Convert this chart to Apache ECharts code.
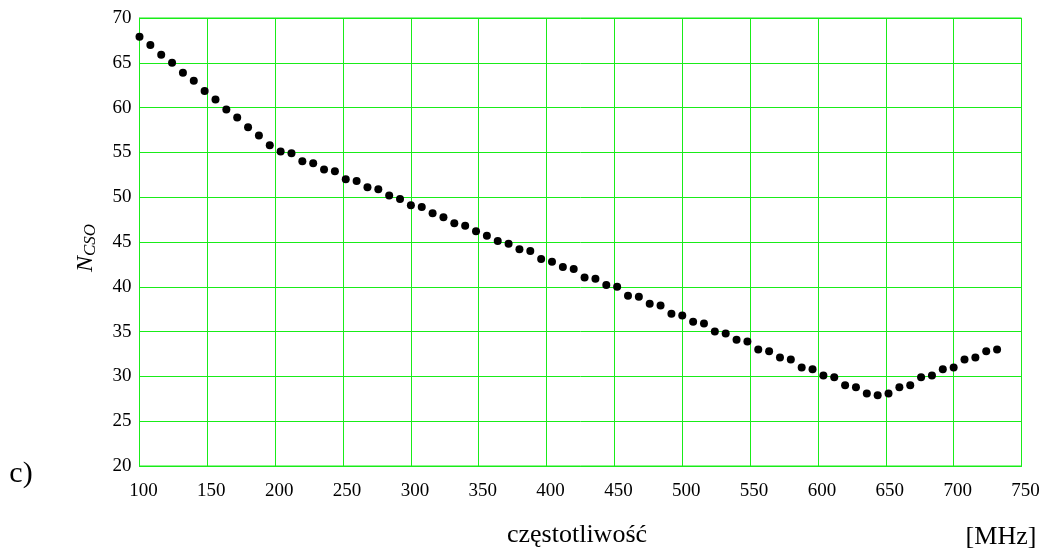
<!DOCTYPE html>
<html>
<head>
<meta charset="utf-8">
<script src="https://cdn.jsdelivr.net/npm/echarts@6/dist/echarts.min.js"></script>
<style>
html,body{margin:0;padding:0;background:#fff;}
#chart{width:1047px;height:553px;}
</style>
</head>
<body>
<div id="chart"></div>
<script>
// frequency [MHz]
var freqStart = 100;
var freqStep = 8;
// N_CSO values
var ncso = [
  67.9, 67.0, 65.9, 65.0, 63.9, 63.0, 61.85, 60.9, 59.8, 58.9,
  57.8, 56.9, 55.8, 55.1, 54.9, 54.0, 53.8, 53.1, 52.9, 52.0,
  51.8, 51.1, 50.9, 50.2, 49.8, 49.1, 48.9, 48.2, 47.75, 47.1,
  46.8, 46.2, 45.7, 45.1, 44.8, 44.2, 44.0, 43.1, 42.8, 42.2,
  42.0, 41.05, 40.9, 40.2, 40.0, 39.0, 38.9, 38.1, 37.9, 37.0,
  36.8, 36.1, 35.9, 35.0, 34.8, 34.1, 33.9, 33.0, 32.8, 32.1,
  31.9, 31.0, 30.8, 30.1, 29.9, 29.0, 28.8, 28.1, 27.9, 28.1,
  28.8, 29.0, 29.9, 30.1, 30.8, 31.0, 31.9, 32.1, 32.8, 33.0
];
var freqs = ncso.map(function(v, i){ return freqStart + freqStep * i; });
var xTicks = [100,150,200,250,300,350,400,450,500,550,600,650,700,750];
var yTicks = [20,25,30,35,40,45,50,55,60,65,70];
var texts = { yName: 'N', ySub: 'CSO', xName: 'częstotliwość', unit: '[MHz]', panel: 'c)' };

var green = '#19ec19';
var font = '"Liberation Serif", "Times New Roman", serif';
var chart = echarts.init(document.getElementById('chart'), null, {renderer: 'canvas'});
var gridL = 139.5, gridT = 18, gridR = 25.5, gridB = 87;
chart.setOption({
  animation: false,
  backgroundColor: '#fff',
  grid: {left: gridL, top: gridT, right: gridR, bottom: gridB, show: true, borderColor: green, borderWidth: 1},
  xAxis: {
    type: 'value', min: xTicks[0], max: xTicks[xTicks.length-1], interval: 50,
    axisLine: {lineStyle: {color: green, width: 1}},
    axisTick: {show: false},
    splitLine: {show: true, lineStyle: {color: green, width: 1}},
    axisLabel: {color: '#000', fontFamily: font, fontSize: 19, margin: 16, padding: [0,0,0,8]}
  },
  yAxis: {
    type: 'value', min: yTicks[0], max: yTicks[yTicks.length-1], interval: 5,
    axisLine: {show: true, lineStyle: {color: green, width: 1}},
    axisTick: {show: false},
    splitLine: {show: true, lineStyle: {color: green, width: 1}},
    axisLabel: {color: '#000', fontFamily: font, fontSize: 19, margin: 8}
  },
  series: [{
    type: 'scatter',
    data: freqs.map(function(f, i){ return [f, ncso[i]]; }),
    symbol: 'circle', symbolSize: 8,
    itemStyle: {color: '#000', opacity: 1}
  }],
  graphic: [
    {type: 'text', x: 86, y: 248, rotation: Math.PI/2,
     style: {text: '{n|' + texts.yName + '}{s|' + texts.ySub + '}', align: 'center', verticalAlign: 'middle',
       rich: {n: {fontFamily: font, fontStyle: 'italic', fontSize: 24, fill: '#000'},
              s: {fontFamily: font, fontStyle: 'italic', fontSize: 17, fill: '#000', padding: [9,0,0,0]}}}},
    {type: 'text', x: 21, y: 474, style: {text: texts.panel, fontFamily: font, fontSize: 30, fill: '#000', align: 'center', verticalAlign: 'middle'}},
    {type: 'text', x: 577, y: 535, style: {text: texts.xName, fontFamily: font, fontSize: 26, fill: '#000', align: 'center', verticalAlign: 'middle'}},
    {type: 'text', x: 1001, y: 537, style: {text: texts.unit, fontFamily: font, fontSize: 26, fill: '#000', align: 'center', verticalAlign: 'middle'}}
  ]
});
</script>
</body>
</html>
